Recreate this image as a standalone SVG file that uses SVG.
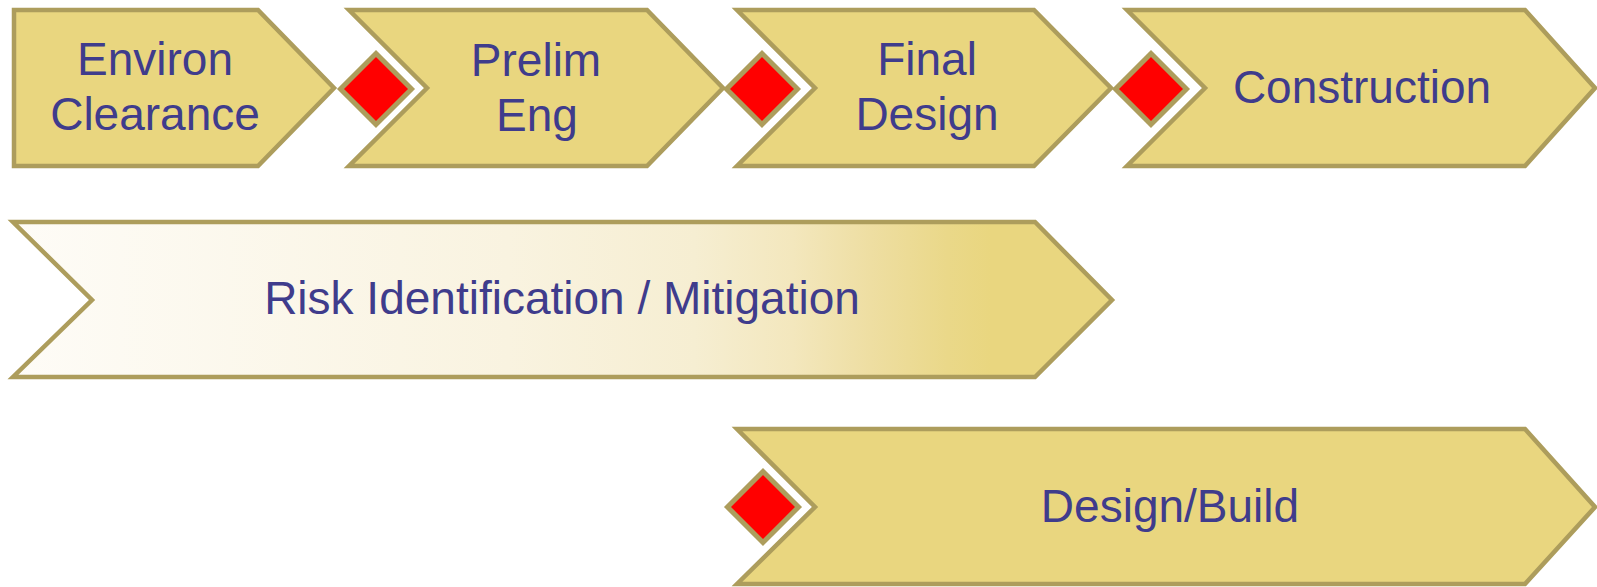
<svg xmlns="http://www.w3.org/2000/svg" width="1597" height="587" viewBox="0 0 1597 587">
<style>
.chev{fill:#e9d67f;stroke:#ad9d5c;stroke-width:4.5;stroke-linejoin:miter}
.dia{fill:#ff0000;stroke:#ad9d5c;stroke-width:5}
.lbl{font-family:"Liberation Sans",Arial,sans-serif;font-size:46px;fill:#3f3c8c;text-anchor:middle}
</style>
<defs>
<linearGradient id="riskGrad" gradientUnits="userSpaceOnUse" x1="13" y1="0" x2="1112" y2="0">
<stop offset="0" stop-color="#fefcf7"/>
<stop offset="0.45" stop-color="#f9f3e0"/>
<stop offset="0.62" stop-color="#f6eed2"/>
<stop offset="0.71" stop-color="#f3e7bd"/>
<stop offset="0.78" stop-color="#eedea2"/>
<stop offset="0.85" stop-color="#ead889"/>
<stop offset="0.89" stop-color="#e9d67f"/>
<stop offset="1" stop-color="#e9d67f"/>
</linearGradient>
</defs>
<g id="environ">
<path class="chev" d="M14,10 L258,10 L334,88 L258,166 L14,166 Z"/>
<text class="lbl" x="155" y="75">Environ</text>
<text class="lbl" x="155" y="130">Clearance</text>
</g>
<g id="prelim">
<path class="chev" d="M349,10 L647,10 L723,88 L647,166 L349,166 L427,88 Z"/>
<text class="lbl" x="536" y="76">Prelim</text>
<text class="lbl" x="537" y="131">Eng</text>
</g>
<g id="final">
<path class="chev" d="M737,10 L1034,10 L1111,88 L1034,166 L737,166 L815,88 Z"/>
<text class="lbl" x="927" y="75">Final</text>
<text class="lbl" x="927" y="130">Design</text>
</g>
<g id="construction">
<path class="chev" d="M1127,10 L1525,10 L1595,88 L1525,166 L1127,166 L1205,88 Z"/>
<text class="lbl" x="1362" y="103">Construction</text>
</g>
<g id="risk">
<path class="chev" style="fill:url(#riskGrad)" d="M13,222 L1035,222 L1112,300 L1035,377 L13,377 L92,300 Z"/>
<text class="lbl" x="562" y="314">Risk Identification / Mitigation</text>
</g>
<g id="designbuild">
<path class="chev" d="M737,429 L1525,429 L1595,507 L1525,584 L737,584 L815,507 Z"/>
<text class="lbl" x="1170" y="522">Design/Build</text>
</g>
<g id="milestones">
<path class="dia" d="M376,53.5 L411.5,89 L376,124.5 L340.5,89 Z"/>
<path class="dia" d="M762,53.5 L797.5,89 L762,124.5 L726.5,89 Z"/>
<path class="dia" d="M1151,53.5 L1186.5,89 L1151,124.5 L1115.5,89 Z"/>
<path class="dia" d="M763,471.5 L798.5,507 L763,542.5 L727.5,507 Z"/>
</g>
<g id="connectors"></g>
</svg>
